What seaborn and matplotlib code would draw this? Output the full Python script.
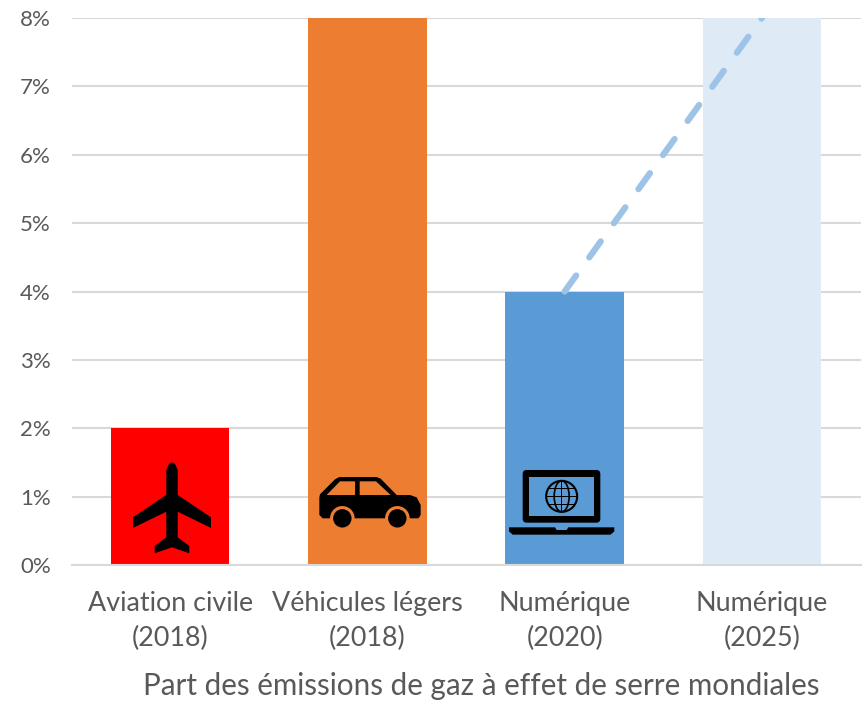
import numpy as np
import pandas as pd
import seaborn as sns
import matplotlib.pyplot as plt
from matplotlib.patches import Circle, Ellipse, FancyBboxPatch, Polygon, Rectangle
from matplotlib.transforms import Affine2D

categories = ['Aviation civile\n(2018)', 'Véhicules légers\n(2018)', 'Numérique\n(2020)', 'Numérique\n(2025)']
shares = [2, 8, 4, 8]
bar_colors = ['#FF0000', '#ED7D31', '#5B9BD5', '#DEEAF6']
trend_categories = ['Numérique\n(2020)', 'Numérique\n(2025)']
trend_values = [4, 8]
y_ticks = [0, 1, 2, 3, 4, 5, 6, 7, 8]
y_labels = ['0%', '1%', '2%', '3%', '4%', '5%', '6%', '7%', '8%']
x_title = 'Part des émissions de gaz à effet de serre mondiales'

W, H = 863, 701
TEXT = '#595959'
GRID = '#D9D9D9'

sns.set_style('white')
plt.rcParams['font.family'] = ['Lato', 'DejaVu Sans']

fig = plt.figure(figsize=(W / 100, H / 100), dpi=100)
ax = fig.add_axes([71.5 / W, 1 - 565 / H, (860.5 - 71.5) / W, (565 - 18) / H])

df = pd.DataFrame({'category': categories, 'share': shares})
sns.barplot(data=df, x='category', y='share', hue='category', palette=bar_colors,
            width=0.6, saturation=1, legend=False, zorder=2, linewidth=0, ax=ax)

trend = pd.DataFrame({'category': trend_categories, 'share': trend_values})
sns.lineplot(data=trend, x='category', y='share', color='#9DC3E6', linewidth=4.5,
             sort=False, errorbar=None, zorder=3, ax=ax)
ax.lines[-1].set_dashes((3.15, 3.58))
ax.lines[-1].set_dash_capstyle('round')

ax.set_xlim(-0.5, 3.5)
ax.set_ylim(0, 8)
ax.set_yticks(y_ticks)
ax.set_yticklabels(y_labels)
ax.yaxis.grid(True, color=GRID, linewidth=1.5, zorder=0)
ax.set_axisbelow(True)
ax.tick_params(axis='both', length=0, labelcolor=TEXT)
ax.tick_params(axis='x', pad=19, labelsize=19.4)
ax.tick_params(axis='y', pad=15, labelsize=16)
for t in ax.get_xticklabels():
    t.set_linespacing(1.47)
ax.set_xlabel('')
ax.set_ylabel('')
for s in ['top', 'left', 'right']:
    ax.spines[s].set_visible(False)
ax.spines['bottom'].set_color(GRID)
ax.spines['bottom'].set_linewidth(1.5)

fig.text(481 / W, 1 - 686.5 / H, x_title, color=TEXT, fontsize=21.3, ha='center', va='center')

# icons are drawn in reference pixels, y going down
px = Affine2D().scale(1 / W, -1 / H).translate(0, 1) + fig.transFigure


def add(patch):
    patch.set_transform(px)
    patch.set_clip_on(False)
    patch.set_zorder(5)
    fig.add_artist(patch)


# plane
half = [(0, 462), (3, 464), (5.7, 470), (5.7, 495), (39, 517.3), (39, 528), (5.7, 511.7),
        (5.7, 537.3), (17.3, 546), (17.3, 553.3), (0, 547.3)]
plane = [(172 + a, b) for a, b in half] + [(172 - a, b) for a, b in half[::-1]]
add(Polygon(plane, closed=True, fc='black', ec='none'))


# car, from the zoomed crop
def car_pt(x, y):
    return 100 + x / 3, 440 + y / 3


body = [(658, 172), (660, 163), (705, 118), (718, 111), (830, 111), (842, 116), (890, 165), (930, 165),
        (950, 172), (962, 195), (962, 225), (955, 235), (668, 235), (658, 225)]
add(Polygon([car_pt(*p) for p in body], closed=True, fc='black', ec='none'))
add(Polygon([car_pt(*p) for p in [(680, 165), (720, 124), (765, 124), (765, 165)]], closed=True, fc='#ED7D31', ec='none'))
add(Polygon([car_pt(*p) for p in [(779, 124), (828, 124), (872, 165), (779, 165)]], closed=True, fc='#ED7D31', ec='none'))
for cx in [727, 892]:
    add(Circle(car_pt(cx, 235), 12.3, fc='#ED7D31', ec='none'))
    add(Circle(car_pt(cx, 235), 9.2, fc='black', ec='none'))


# laptop, from the zoomed crop
def lap_pt(x, y):
    return 490 + x / 3, 440 + y / 3


x0, y0 = lap_pt(98, 90)
x1, y1 = lap_pt(331, 248)
add(FancyBboxPatch((x0 + 3, y0 + 3), x1 - x0 - 6, y1 - y0 - 6, boxstyle='round,pad=3,rounding_size=4', fc='black', ec='none'))
x0, y0 = lap_pt(118, 110)
x1, y1 = lap_pt(312, 228)
add(Rectangle((x0, y0), x1 - x0, y1 - y0, fc='#5B9BD5', ec='none'))
add(Polygon([lap_pt(*p) for p in [(57, 262), (195, 262), (200, 270), (230, 270), (235, 262), (373, 262),
                                  (373, 274), (362, 284), (68, 284), (57, 274)]], closed=True, fc='black', ec='none'))
gc = lap_pt(215, 169)
add(Circle(gc, 15.5, fc='none', ec='black', lw=1.5))
add(Ellipse(gc, 15, 31, fc='none', ec='black', lw=1.2))
add(Rectangle((gc[0] - 0.6, gc[1] - 15.5), 1.2, 31, fc='black', ec='none'))
add(Rectangle((gc[0] - 15.5, gc[1] - 0.6), 31, 1.2, fc='black', ec='none'))
for dy in [-8, 8]:
    hw = np.sqrt(15.5 ** 2 - dy ** 2)
    add(Rectangle((gc[0] - hw, gc[1] + dy - 0.5), 2 * hw, 1, fc='black', ec='none'))

fig.savefig('out.png', dpi=100)
